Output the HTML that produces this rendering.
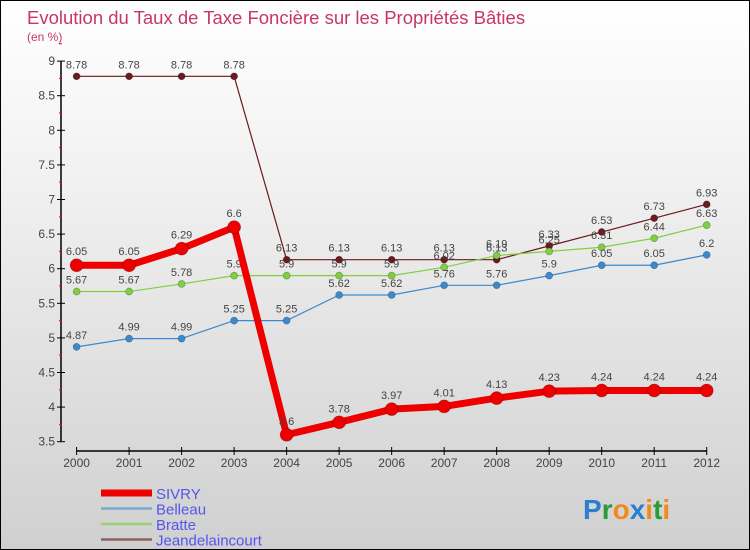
<!DOCTYPE html>
<html><head><meta charset="utf-8"><style>
body{margin:0}
#c{position:relative;width:748px;height:548px;border:1px solid #000;background:linear-gradient(#ffffff,#f2f2f2 30%,#d0d0d0);font-family:"Liberation Sans",sans-serif;overflow:hidden}
</style></head><body>
<div id="c">
<svg width="748" height="548">
<text x="26" y="23" font-size="18.5" fill="#c8356a">Evolution du Taux de Taxe Foncière sur les Propriétés Bâties</text>
<text x="26" y="40" font-size="12" fill="#c8356a">(en %)</text>
<g id="axes"></g><g id="series"></g><g id="legend"></g>
<g font-size="28" font-family="'Liberation Sans',sans-serif" font-weight="bold">
<text x="582" y="518"><tspan fill="#2a7fd0">P</tspan><tspan fill="#2a9a3a">r</tspan><tspan fill="#f08a1a">o</tspan><tspan fill="#2a7fd0">x</tspan><tspan fill="#f08a1a">i</tspan><tspan fill="#2a9a3a">t</tspan><tspan fill="#f08a1a">i</tspan></text>
</g>
</svg>
</div>
<script>
const years=[2000,2001,2002,2003,2004,2005,2006,2007,2008,2009,2010,2011,2012];
const sivry=[6.05,6.05,6.29,6.6,3.6,3.78,3.97,4.01,4.13,4.23,4.24,4.24,4.24];
const belleau=[4.87,4.99,4.99,5.25,5.25,5.62,5.62,5.76,5.76,5.9,6.05,6.05,6.2];
const bratte=[5.67,5.67,5.78,5.9,5.9,5.9,5.9,6.02,6.19,6.25,6.31,6.44,6.63];
const jean=[8.78,8.78,8.78,8.78,6.13,6.13,6.13,6.13,6.13,6.33,6.53,6.73,6.93];
const yTicks=[3.5,4,4.5,5,5.5,6,6.5,7,7.5,8,8.5,9];
const names=["SIVRY","Belleau","Bratte","Jeandelaincourt"];
const NS="http://www.w3.org/2000/svg";
function X(i){return 75.6+i*(705.7-75.6)/(years.length-1);}
function Y(v){return 440.7-(v-3.5)*69.2;}
function mk(t,a,p){const e=document.createElementNS(NS,t);for(const k in a)e.setAttribute(k,a[k]);if(p)p.appendChild(e);return e;}
const ax=document.getElementById('axes');
const yl=mk('line',{x1:60,x2:60,y1:Y(9),y2:Y(3.5),stroke:'#000','stroke-width':1.5},ax);


yTicks.forEach(v=>{
 mk('line',{x1:56,x2:64,y1:Y(v),y2:Y(v),stroke:'#000'},ax);
 mk('line',{x1:58,x2:61,y1:Y(v+0.25),y2:Y(v+0.25),stroke:'#f00'},ax);
 const t=mk('text',{x:54,y:Y(v)+4,'font-size':12,fill:'#444','text-anchor':'end'},ax);t.textContent=String(v);
 
 
});
const xl=mk('line',{x1:X(0),x2:X(12),y1:450,y2:450,stroke:'#000','stroke-width':1.5},ax);


years.forEach((y,i)=>{
 mk('line',{x1:X(i),x2:X(i),y1:446,y2:454,stroke:'#000'},ax);
 const t=mk('text',{x:X(i),y:466,'font-size':12,fill:'#444','text-anchor':'middle'},ax);t.textContent=y;
 
 
});
const sg=document.getElementById('series');
const defs=[[jean,'#6b1a1f',1.2,3.5,'jeandelaincourt'],[bratte,'#7fd040',1.2,3.5,'bratte'],[belleau,'#3a8ad0',1.2,3.5,'belleau'],[sivry,'#ee0000',7,6.5,'sivry']];
defs.forEach(([d,c,w,r,n])=>{
 const g=mk('g',{},sg);
 
 
 mk('polyline',{points:d.map((v,i)=>X(i)+','+Y(v)).join(' '),fill:'none',stroke:c,'stroke-width':w,'stroke-linejoin':'round'},g);
 d.forEach((v,i)=>{
  const p=mk('circle',{cx:X(i),cy:Y(v),r:r,fill:c,stroke:'rgba(0,0,0,0.3)','stroke-width':0.7},g);
  
  
  const t=mk('text',{x:X(i),y:Y(v)-(w>3?10:8),'font-size':11,fill:'#444','text-anchor':'middle'},g);
  t.textContent=String(v);
  
  
 });
});
const lg=document.getElementById('legend');
const lc=[['#ee0000',7],['#7aaad0',2.5],['#9ad070',2.5],['#8a6060',2.5]];
names.forEach((n,i)=>{
 const y=492+i*15.5;
 const g=mk('g',{},lg);
 
 
 mk('line',{x1:100,x2:151,y1:y,y2:y,stroke:lc[i][0],'stroke-width':lc[i][1]},g);
 const t=mk('text',{x:155,y:y+6,'font-size':15,fill:'#5555ee'},g);t.textContent=n;
});
</script>
</body></html>
